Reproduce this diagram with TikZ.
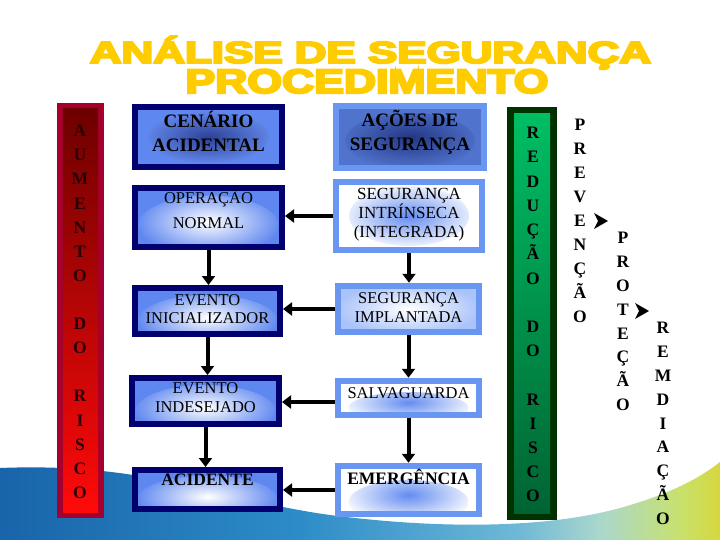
\documentclass[tikz,border=0pt]{standalone}
\usepackage{fontspec}
\usepackage{graphicx}
\setmainfont{Liberation Serif}
\newfontfamily\titlefont{Liberation Sans Bold}[FakeBold=6]
\usetikzlibrary{arrows.meta}
\definecolor{titleyellow}{RGB}{255,204,0}
\definecolor{navy}{RGB}{0,0,110}
\definecolor{lblue}{RGB}{95,135,240}
\definecolor{rborder}{RGB}{105,150,240}
\definecolor{redborder}{RGB}{165,0,45}
\definecolor{redtop}{RGB}{110,0,0}
\definecolor{redbot}{RGB}{255,10,10}
\definecolor{greenborder}{RGB}{0,50,0}
\definecolor{greentop}{RGB}{0,190,100}
\definecolor{greenbot}{RGB}{0,100,50}
\definecolor{bandA}{RGB}{25,100,170}
\definecolor{bandB}{RGB}{45,140,200}
\definecolor{bandC}{RGB}{110,185,215}
\definecolor{bandD}{RGB}{170,215,205}
\definecolor{bandE}{RGB}{200,225,110}
\definecolor{bandF}{RGB}{215,215,60}
\definecolor{cenin}{RGB}{45,65,150}
\definecolor{cenout}{RGB}{105,145,245}
\definecolor{acsin}{RGB}{35,55,130}
\definecolor{acsout}{RGB}{80,115,205}
\definecolor{glowblue}{RGB}{100,140,240}
\definecolor{palebl}{RGB}{170,195,250}
\definecolor{bartext}{RGB}{40,0,0}
\tikzset{
  lbox/.style={draw=navy, line width=6pt, inner sep=0pt, fill=lblue},
  rbox/.style={draw=rborder, line width=6.5pt, inner sep=0pt, fill=white},
  glow/.style n args={4}{path picture={\shade[inner color=#1, outer color=#2]
      ([yshift=#3]path picture bounding box.center) ellipse (#4);}},
  regtxt/.style={anchor=base, inner sep=0pt, font=\fontsize{16.5}{18}\selectfont},
  boldtxt/.style={anchor=base, inner sep=0pt, font=\fontsize{19}{20}\selectfont\bfseries},
  midbold/.style={anchor=base, inner sep=0pt, font=\fontsize{17.5}{19}\selectfont\bfseries},
  vletter/.style={anchor=base, inner sep=0pt, font=\fontsize{17.5}{19}\selectfont\bfseries},
  arr/.style={line width=4pt, -{Triangle[width=13pt,length=9pt]}},
}
\begin{document}
\begin{tikzpicture}[x=1pt,y=-1pt]
\useasboundingbox (0,0) rectangle (720,540);
\fill[white] (0,0) rectangle (720,540);
% background band
\begin{scope}
\clip (0,468) .. controls (150,462) and (220,500) .. (330,515)
  .. controls (430,528) and (540,530) .. (620,508)
  .. controls (670,494) and (700,478) .. (720,462) -- (720,541) -- (0,541) -- cycle;
\shade[left color=bandA, right color=bandB] (0,440) rectangle (300,541);
\shade[left color=bandB, right color=bandC] (299.5,440) rectangle (520,541);
\shade[left color=bandC, right color=bandD] (519.5,440) rectangle (600,541);
\shade[left color=bandD, right color=bandE] (599.5,440) rectangle (680,541);
\shade[left color=bandE, right color=bandF] (679.5,440) rectangle (721,541);
\end{scope}
% titles
\node[anchor=base, inner sep=0pt, text=titleyellow] (title1) at (370.5,63)
  {\titlefont\fontsize{30.5}{31}\selectfont\scalebox{1.44}[1]{ANÁLISE DE SEGURANÇA}};
\node[anchor=base, inner sep=0pt, text=titleyellow] (title2) at (367,93)
  {\titlefont\fontsize{34}{35}\selectfont\scalebox{1.31}[1]{PROCEDIMENTO}};
% red bar
\fill[redborder] (57,103) rectangle (104,518);
\shade[top color=redtop, bottom color=redbot] (63,109) rectangle (98,512);
\foreach \ch/\k in {A/0,U/1,M/2,E/3,N/4,T/5,O/6,D/8,O/9,R/11,I/12,S/13,C/14,O/15}
  \node[vletter, text=bartext] (red\k) at (80,{136.8+24.1*\k}) {\ch};
% green bar
\fill[greenborder] (507,107) rectangle (557,520);
\shade[top color=greentop, bottom color=greenbot] (514,114) rectangle (550,513);
\foreach \ch/\k in {R/0,E/1,D/2,U/3,Ç/4,Ã/5,O/6,D/8,O/9,R/11,I/12,S/13,C/14,O/15}
  \node[vletter] (grn\k) at (533,{138.8+24.2*\k}) {\ch};
% vertical words
\foreach \ch [count=\k from 0] in {P,R,E,V,E,N,Ç,Ã,O}
  \node[vletter] (prev\k) at (580,{130.8+24*\k}) {\ch};
\foreach \ch [count=\k from 0] in {P,R,O,T,E,Ç,Ã,O}
  \node[vletter] (prot\k) at (623,{243.8+23.8*\k}) {\ch};
\foreach \ch [count=\k from 0] in {R,E,M,D,I,A,Ç,Ã,O}
  \node[vletter] (rem\k) at (663,{333.8+23.8*\k}) {\ch};
\fill (594,213) -- (608,221) -- (594,229) -- (598,221) -- cycle;
\fill (635,303) -- (649,311) -- (635,319) -- (639,311) -- cycle;
% left boxes
\node[lbox, minimum width=147pt, minimum height=60pt, glow={cenin}{cenout}{0pt}{60pt and 26pt}] (cen) at (208.5,137) {};
\node[lbox, minimum width=147pt, minimum height=59pt, glow={white}{lblue}{-8pt}{70pt and 30pt}] (op) at (208.5,217.5) {};
\node[lbox, minimum width=145pt, minimum height=46pt, glow={white}{lblue}{-10pt}{70pt and 26pt}] (ini) at (207.5,311) {};
\node[lbox, minimum width=147pt, minimum height=46pt, glow={white}{lblue}{-10pt}{70pt and 26pt}] (ind) at (205.5,401) {};
\node[lbox, minimum width=145pt, minimum height=39pt, glow={white}{lblue}{-10pt}{70pt and 24pt}] (aci) at (207.5,489.5) {};
% right boxes
\node[rbox, fill=acsout, minimum width=148pt, minimum height=62pt, glow={acsin}{acsout}{-4pt}{65pt and 28pt}] (acs) at (410,137) {};
\node[rbox, minimum width=146pt, minimum height=68pt, glow={glowblue}{white}{0pt}{60pt and 30pt}] (int) at (409,216) {};
\node[rbox, fill=palebl, minimum width=141pt, minimum height=46pt, glow={white}{palebl}{0pt}{72pt and 26pt}] (imp) at (408.5,309) {};
\node[rbox, minimum width=141pt, minimum height=34pt, glow={glowblue}{white}{-10pt}{60pt and 16pt}] (sal) at (408.5,398) {};
\node[rbox, minimum width=141pt, minimum height=48pt, glow={glowblue}{white}{-12pt}{60pt and 22pt}] (emg) at (408.5,490) {};
% texts
\node[boldtxt] (tcen1) at (208.5,127.3) {CENÁRIO};
\node[boldtxt] (tcen2) at (208.5,151.3) {ACIDENTAL};
\node[regtxt] (top1) at (208.5,203.5) {OPERAÇÃO};
\node[regtxt] (top2) at (208.5,228.5) {NORMAL};
\node[regtxt] (tini1) at (207.5,305.5) {EVENTO};
\node[regtxt] (tini2) at (207.5,323.5) {INICIALIZADOR};
\node[regtxt] (tind1) at (205.5,393.5) {EVENTO};
\node[regtxt] (tind2) at (205.5,412.5) {INDESEJADO};
\node[midbold] (taci) at (207.5,485.8) {ACIDENTE};
\node[boldtxt] (tacs1) at (410,126.3) {AÇÕES DE};
\node[boldtxt] (tacs2) at (410,150.3) {SEGURANÇA};
\node[regtxt, font=\fontsize{17}{18}\selectfont] (tint1) at (409,199.6) {SEGURANÇA};
\node[regtxt, font=\fontsize{17}{18}\selectfont] (tint2) at (409,218.6) {INTRÍNSECA};
\node[regtxt, font=\fontsize{17}{18}\selectfont] (tint3) at (409,237.6) {(INTEGRADA)};
\node[regtxt] (timp1) at (408.5,303.5) {SEGURANÇA};
\node[regtxt] (timp2) at (408.5,322.5) {IMPLANTADA};
\node[regtxt] (tsal) at (408.5,398.5) {SALVAGUARDA};
\node[midbold] (temg) at (408.5,484.8) {EMERGÊNCIA};
% arrows
\draw[arr] (op.south) -- (op.south |- ini.north);
\draw[arr] (ini.south) -- (ini.south |- ind.north);
\draw[arr] (ind.south) -- (ind.south |- aci.north);
\draw[arr] (int.south) -- (int.south |- imp.north);
\draw[arr] (imp.south) -- (imp.south |- sal.north);
\draw[arr] (sal.south) -- (sal.south |- emg.north);
\draw[arr] (int.west) -- (int.west -| op.east);
\draw[arr] (imp.west) -- (imp.west -| ini.east);
\draw[arr] ([yshift=-4pt]sal.west) -- ([yshift=-4pt]sal.west -| ind.east);
\draw[arr] (emg.west) -- (emg.west -| aci.east);
\end{tikzpicture}
\end{document}
